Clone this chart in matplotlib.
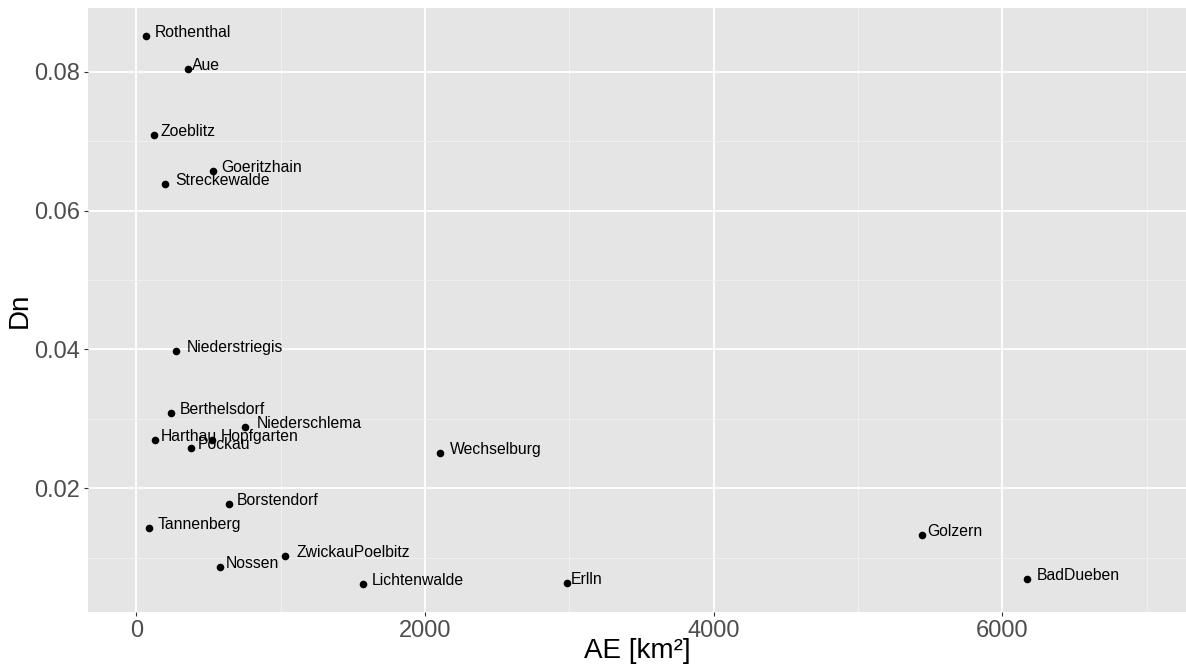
import matplotlib.pyplot as plt
from matplotlib.ticker import MultipleLocator

plt.rcParams['font.family'] = ['Liberation Sans', 'DejaVu Sans']

# Einzugsgebiete: Flaeche AE [km²] und Dn
stations = ['Rothenthal', 'Aue', 'Zoeblitz', 'Goeritzhain', 'Streckewalde',
            'Niederstriegis', 'Berthelsdorf', 'Niederschlema', 'Harthau',
            'Hopfgarten', 'Pockau', 'Wechselburg', 'Borstendorf', 'Tannenberg',
            'ZwickauPoelbitz', 'Nossen', 'Lichtenwalde', 'Erlln', 'Golzern',
            'BadDueben']
ae = [69, 358, 125, 529, 201,
      277, 240, 755, 130,
      527, 381, 2104, 642, 86,
      1028, 580, 1571, 2981, 5442,
      6169]
dn = [0.0852, 0.0804, 0.0709, 0.0657, 0.0639,
      0.0398, 0.0308, 0.0289, 0.0270,
      0.0270, 0.0258, 0.0251, 0.0177, 0.0143,
      0.0102, 0.0086, 0.0062, 0.0064, 0.0133,
      0.0069]

# Abstand der Beschriftung rechts vom Punkt (Pixel)
label_dx = [8, 4, 6, 9, 10,
            10, 9, 11, 6,
            8, 6, 10, 8, 9,
            12, 6, 9, 4, 6,
            10]

fig = plt.figure(figsize=(11.86, 6.66), dpi=100)
ax = fig.add_axes([88 / 1186, 54 / 666, 1 - 88 / 1186, 604 / 666])

ax.set_facecolor('#E5E5E5')
for s in ax.spines.values():
    s.set_visible(False)

ax.xaxis.set_major_locator(MultipleLocator(2000))
ax.xaxis.set_minor_locator(MultipleLocator(1000))
ax.yaxis.set_major_locator(MultipleLocator(0.02))
ax.yaxis.set_minor_locator(MultipleLocator(0.01))
ax.grid(which='major', color='white', linewidth=1.3)
ax.grid(which='minor', color='#F2F2F2', linewidth=0.6)
ax.set_axisbelow(True)

ax.scatter(ae, dn, s=30, color='black', zorder=3, linewidths=0)
for name, x, y, dx in zip(stations, ae, dn, label_dx):
    ax.annotate(name, (x, y), xytext=(dx * 0.72, 2.5), textcoords='offset points',
                ha='left', va='center', fontsize=11.3, color='black', zorder=4)

ax.set_xlim(-335, 7273)
ax.set_ylim(0.00218, 0.0892)
ax.set_xticks([0, 2000, 4000, 6000])
ax.set_xticklabels(['0', '2000', '4000', '6000'])
ax.set_yticks([0.02, 0.04, 0.06, 0.08])
ax.set_yticklabels(['0.02', '0.04', '0.06', '0.08'])

ax.tick_params(which='major', length=3, width=0.8, color='#333333',
               labelsize=17, labelcolor='#4D4D4D', pad=3)
ax.tick_params(which='minor', length=0)

ax.set_xlabel('AE [km²]', fontsize=20)
ax.set_ylabel('Dn', fontsize=20)
ax.xaxis.set_label_coords(0.5, -0.043)
ax.yaxis.set_label_coords(-0.050, 0.5)

fig.savefig('out.png', dpi=100)
